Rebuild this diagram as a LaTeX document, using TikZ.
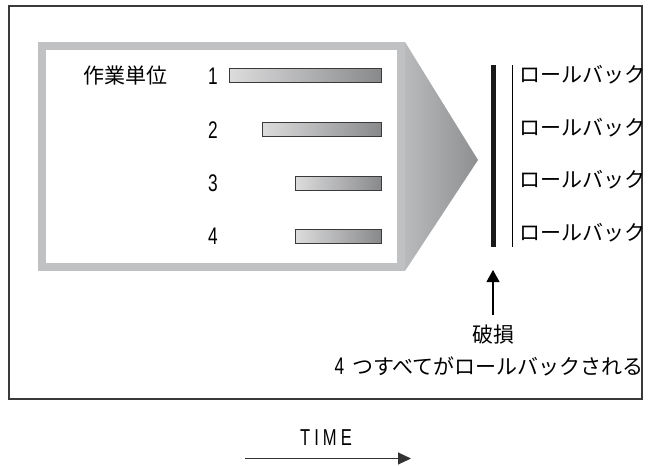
\documentclass[tikz,border=0pt]{standalone}
\usepackage{fontspec}
\setmainfont{Noto Sans CJK JP}
\newfontfamily\jpfont{Noto Sans CJK JP}
\newfontfamily\narrowfont[FakeStretch=0.72]{Liberation Sans}
\newfontfamily\timefont[FakeStretch=0.72,LetterSpace=18]{Liberation Sans}
\usetikzlibrary{arrows.meta}
\definecolor{framegray}{HTML}{C0C1C3}
\definecolor{trileft}{HTML}{B9BABC}
\definecolor{triright}{HTML}{8E8F91}
\definecolor{barleft}{HTML}{DCDCDD}
\definecolor{barright}{HTML}{88898B}
\definecolor{edge}{HTML}{3A3A3A}
\tikzset{
  jp/.style={font=\jpfont\fontsize{21}{24}\selectfont, inner sep=0pt},
  num/.style={font=\narrowfont\fontsize{24}{26}\selectfont, inner sep=0pt},
  bar/.style={draw=edge, line width=0.9pt, left color=barleft, right color=barright, minimum height=14pt, inner sep=0pt, anchor=east},
  arr/.style={line width=1.1pt, -{Triangle[width=13pt,length=12pt]}},
}
\begin{document}
\begin{tikzpicture}[x=1pt,y=-1pt]
\useasboundingbox (0,0) rectangle (654,466);
% outer frame
\draw[edge, line width=1.2pt] (9,6) rectangle (642,399);
% gray frame with arrow
\fill[framegray] (38,42) rectangle (405,271);
\fill[white] (46,50) rectangle (397,263);
\shade[left color=trileft, right color=triright] (405,42) -- (478,160) -- (405,271) -- cycle;
% labels and bars
\node[jp] (unit) at (125,76) {作業単位};
\node[num] (n1) at (213,76) {1};
\node[num] (n2) at (213,130) {2};
\node[num] (n3) at (213,183) {3};
\node[num] (n4) at (213,236) {4};
\node[bar, minimum width=152pt] (b1) at (382,75.5) {};
\node[bar, minimum width=119pt] (b2) at (382,129.5) {};
\node[bar, minimum width=86pt] (b3) at (382,183.5) {};
\node[bar, minimum width=86pt] (b4) at (382,236.5) {};
% failure lines
\draw[black!90, line width=5pt] (493,65) -- (493,247);
\draw[black, line width=0.9pt] (512,65) -- (512,247);
\node[jp, anchor=west] (r1) at (519,75) {ロールバック};
\node[jp, anchor=west] (r2) at (519,128) {ロールバック};
\node[jp, anchor=west] (r3) at (519,180) {ロールバック};
\node[jp, anchor=west] (r4) at (519,233) {ロールバック};
% failure arrow and text
\node[jp] (fail) at (493,335) {破損};
\node[jp, anchor=east] (all) at (644,366) {{\narrowfont\fontsize{24}{26}\selectfont 4}\hspace{8pt}つすべてがロールバックされる};
\coordinate (ftip) at (493,270);
\coordinate (fbase) at (493,315);
\draw[arr] (fbase) -- (ftip);
% time
\node[font=\timefont\fontsize{23}{26}\selectfont, inner sep=0pt] (time) at (326,438) {TIME};
\coordinate (t0) at (245,458.5);
\coordinate (t1) at (411,458.5);
\draw[line width=1pt, black!80, -{Triangle[width=12pt,length=13pt]}] (t0) -- (t1);
\end{tikzpicture}
\end{document}
